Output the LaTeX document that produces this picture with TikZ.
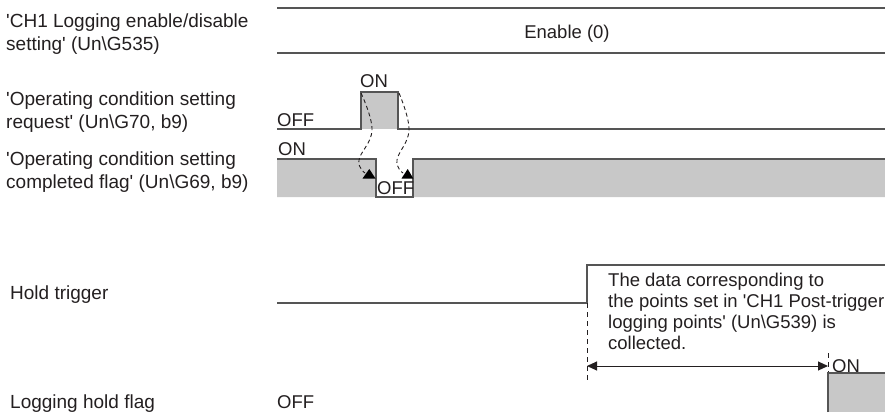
\documentclass[tikz,border=0pt]{standalone}
\usepackage{fontspec}
\setmainfont{Liberation Sans}
\usetikzlibrary{arrows.meta}
\definecolor{sig}{HTML}{555555}
\definecolor{fillg}{HTML}{C8C8C8}
\definecolor{txt}{HTML}{231F20}
\newcommand{\qq}{\textquotesingle}
\newcommand{\bs}{\textbackslash}
\begin{document}
\begin{tikzpicture}[x=1pt,y=-1pt,
  lbl/.style={anchor=base west, inner sep=0pt, align=left, text=txt,
    font=\fontsize{19}{23}\selectfont},
  val/.style={anchor=base west, inner sep=0pt, text=txt,
    font=\fontsize{18.5}{21}\selectfont},
  sigline/.style={draw=sig, line width=1.3pt},
  dashcurve/.style={draw=txt, line width=0.9pt, dash pattern=on 4pt off 3pt},
  dashvert/.style={draw=txt, line width=0.9pt, dash pattern=on 5pt off 4pt},
  tri/.style={fill=black},
  span/.style={draw=txt, line width=1pt, {Triangle[length=10pt,width=9pt]}-{Triangle[length=10pt,width=9pt]}}
]
\useasboundingbox (0,0) rectangle (885,412);

% left labels (base = baseline of last line)
\node[lbl] (l1) at (6,51) {\qq CH1 Logging enable/disable\\setting\qq{} (Un\bs G535)};
\node[lbl] (l2) at (6,128) {\qq Operating condition setting\\request\qq{} (Un\bs G70, b9)};
\node[lbl] (l3) at (6,188.5) {\qq Operating condition setting\\completed flag\qq{} (Un\bs G69, b9)};
\node[lbl] (l4) at (10,299.5) {Hold trigger};
\node[lbl] (l5) at (10,408.5) {Logging hold flag};

% row 1
\draw[sigline] (277,8) -- (885,8);
\draw[sigline] (277,53) -- (885,53);
\node[val, anchor=base] (en) at (567,38) {Enable (0)};

% row 2: request pulse
\fill[fillg] (361,92) rectangle (398,129);
\draw[sigline] (277,129) -- (361,129) -- (361,92) -- (398,92) -- (398,129) -- (885,129);
\node[val] (off2) at (277,126.5) {OFF};
\node[val] (on2) at (360,87.5) {ON};

% row 3: completed flag
\fill[fillg] (277,159) -- (376,159) -- (376,197) -- (413,197) -- (413,159) -- (885,159) -- (885,197) -- (277,197) -- cycle;
\draw[sigline] (277,159) -- (376,159) -- (376,197) -- (413,197) -- (413,159) -- (885,159);
\node[val] (on3) at (278,155.5) {ON};
\node[val] (off3) at (377,194.5) {OFF};

% dashed causal curves
\draw[dashcurve] plot[smooth, tension=0.7] coordinates {(361,93) (372,130) (359,160) (365,173)};
\fill[tri] (362.5,178.5) -- (369.3,169) -- (375.5,178.5) -- cycle;
\draw[dashcurve] plot[smooth, tension=0.7] coordinates {(399,93) (409,130) (397,160) (403,173)};
\fill[tri] (401.5,178.5) -- (407.7,169) -- (413.3,178.5) -- cycle;

% hold trigger
\draw[sigline] (277,303) -- (587,303) -- (587,265) -- (885,265);
\node[anchor=base west, inner sep=0pt, align=left, text=txt,
  font=\fontsize{18.5}{21}\selectfont] (note) at (608,349.5)
  {The data corresponding to\\the points set in \qq CH1 Post-trigger\\logging points\qq{} (Un\bs G539) is\\collected.};
\coordinate (ts) at (587,303);
\coordinate (tb) at (587,381);
\draw[dashvert] (ts) -- (tb);
\coordinate (fs) at (828,353);
\coordinate (fb) at (828,373);
\draw[dashvert] (fs) -- (fb);
\coordinate (aL) at (587,366);
\coordinate (aR) at (828,366);
\draw[span] (aL) -- (aR);
\node[val] (on5) at (832,372.5) {ON};

% logging hold flag
\fill[fillg] (828,373) rectangle (885,412);
\draw[sigline] (828,412) -- (828,373) -- (885,373);
\node[val] (off5) at (277,408.5) {OFF};
\end{tikzpicture}
\end{document}
